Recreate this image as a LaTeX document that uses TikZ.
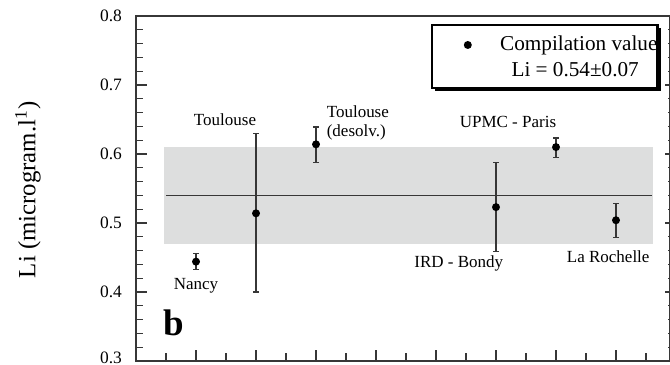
\documentclass[tikz,border=0pt]{standalone}
\usepackage{fontspec}
\setmainfont{Liberation Serif}
\usetikzlibrary{arrows.meta,shadows}
\definecolor{bandgray}{RGB}{221,222,222}
\definecolor{axisgray}{RGB}{55,55,55}

\begin{document}
\begin{tikzpicture}[x=30pt,y=345pt]
    \useasboundingbox (-2.267,0.2942) rectangle (8.9,0.8232);
    % band of the compilation value
    \fill[bandgray] (0.467,0.47) rectangle (8.62,0.61);
    \coordinate (mean0) at (0.5,0.54);
    \coordinate (mean1) at (8.6,0.54);
    \draw[axisgray, line width=0.6pt] (mean0) -- (mean1);
    % frame and ticks
    \begin{scope}[axisgray, line width=0.6pt]
        \draw (8.9,0.8) -- (0,0.8) -- (0,0.3) -- (8.9,0.3) -- cycle;
        \foreach \i in {1,...,24} {
            \draw (0,{0.3+0.02*\i}) -- ++(0.117,0);
            \draw (8.9,{0.3+0.02*\i}) -- ++(-0.033,0);
        }
        \foreach \y in {0.4,0.5,0.6,0.7} {
            \draw (0,\y) -- ++(0.183,0);
            \draw (8.9,\y) -- ++(-0.083,0);
        }
        \foreach \x in {1,...,8} \draw (\x,0.3) -- ++(0,0.016);
        \foreach \x in {0.5,1.5,...,8.5} \draw (\x,0.3) -- ++(0,0.011);
    \end{scope}
    \begin{scope}
        \tikzstyle{every node}=[font=\fontsize{8.7}{10}\selectfont, anchor=east, inner sep=0pt]
        \foreach \y [count=\k] in {0.4,0.5,0.6,0.7,0.8}
            \node (tick\k) at (-0.23,\y) {\y};
        \node (tick0) at (-0.23,0.3045) {0.3};
    \end{scope}
    \node[rotate=90, font=\fontsize{12.4}{14}\selectfont] (ylabel) at (-1.8,0.548) {Li (microgram.l\textsuperscript{1})};
    \node[font=\fontsize{18.5}{20}\selectfont\bfseries] (panel) at (0.63,0.356) {b};
    % error bars
    \begin{scope}
        \tikzstyle{every path}=[draw=axisgray, line width=0.6pt, {Bar[width=3pt]}-{Bar[width=3pt]}]
        \coordinate (nancy-lo) at (1,0.432);  \coordinate (nancy-hi) at (1,0.4565);
        \coordinate (toul-lo) at (2,0.399);   \coordinate (toul-hi) at (2,0.631);
        \coordinate (desolv-lo) at (3,0.587); \coordinate (desolv-hi) at (3,0.640);
        \coordinate (ird-lo) at (6,0.458);    \coordinate (ird-hi) at (6,0.589);
        \coordinate (upmc-lo) at (7,0.594);   \coordinate (upmc-hi) at (7,0.624);
        \coordinate (roch-lo) at (8,0.478);   \coordinate (roch-hi) at (8,0.529);
        \draw (nancy-lo) -- (nancy-hi);
        \draw (toul-lo) -- (toul-hi);
        \draw (desolv-lo) -- (desolv-hi);
        \draw (ird-lo) -- (ird-hi);
        \draw (upmc-lo) -- (upmc-hi);
        \draw (roch-lo) -- (roch-hi);
    \end{scope}
    % data points
    \begin{scope}
        \tikzstyle{every node}=[circle, fill=black, inner sep=0pt, minimum size=4pt]
        \node (nancy) at (1,0.444) {};
        \node (toul) at (2,0.514) {};
        \node (desolv) at (3,0.614) {};
        \node (ird) at (6,0.523) {};
        \node (upmc) at (7,0.610) {};
        \node (roch) at (8,0.504) {};
    \end{scope}
    % labels
    \begin{scope}
        \tikzstyle{every node}=[font=\fontsize{8.5}{9.6}\selectfont, inner sep=1pt]
        \node (nancy-lab) at (1,0.4087) {Nancy};
        \node (toul-lab) at (1.483,0.649) {Toulouse};
        \node[anchor=west, align=left] (desolv-lab) at (3.14,0.645) {Toulouse\\(desolv.)};
        \node (ird-lab) at (5.38,0.442) {IRD - Bondy};
        \node (upmc-lab) at (6.2,0.6468) {UPMC - Paris};
        \node (roch-lab) at (7.87,0.4507) {La Rochelle};
    \end{scope}
    % legend
    \node[draw=black, line width=1.1pt, fill=white, minimum width=112.8pt, minimum height=31.5pt,
          general shadow={fill=black, shadow xshift=1.6pt, shadow yshift=-1.6pt}] (legend) at (6.81,0.7413) {};
    \node[circle, fill=black, inner sep=0pt, minimum size=4pt] (legdot) at (5.53,0.758) {};
    \begin{scope}
        \tikzstyle{every node}=[font=\fontsize{10.6}{12}\selectfont, inner sep=1pt]
        \node[anchor=west] (legtext) at (6.03,0.758) {Compilation value};
        \node (legvalue) at (7.32,0.7217) {Li = 0.54±0.07};
    \end{scope}
\end{tikzpicture}
\end{document}
